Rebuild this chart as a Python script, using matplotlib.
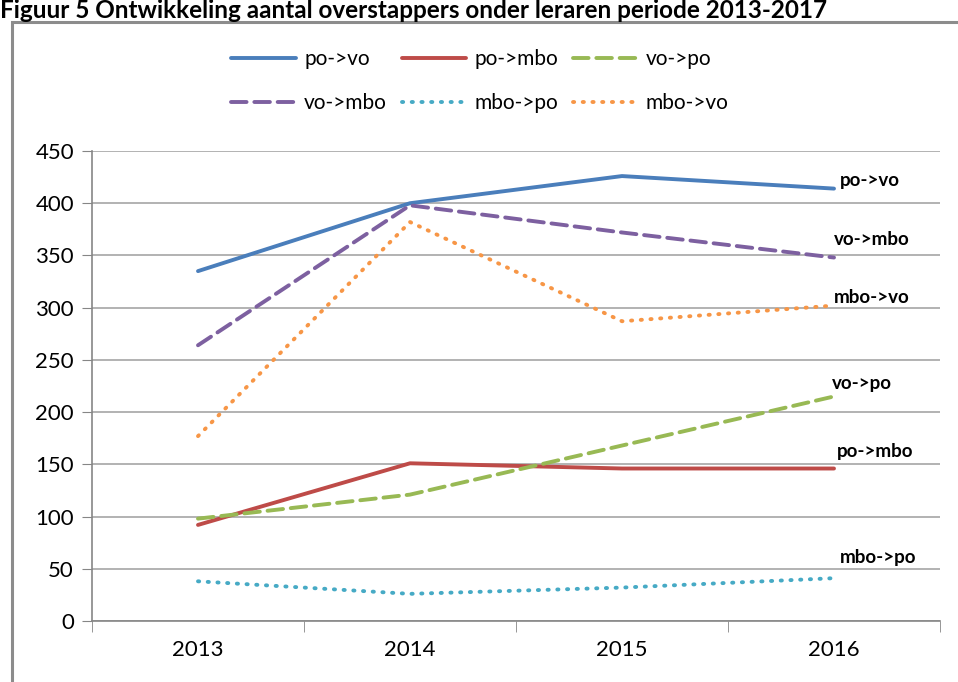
import matplotlib.pyplot as plt
from matplotlib.patches import Rectangle

years = ["2013", "2014", "2015", "2016"]
po_vo = [335, 400, 426, 414]
po_mbo = [92, 151, 146, 146]
vo_po = [98, 121, 168, 215]
vo_mbo = [264, 398, 372, 348]
mbo_po = [38, 26, 32, 41]
mbo_vo = [177, 382, 287, 302]

series = [
    ("po->vo", po_vo, "#4A7EBB", "-", (6, 8)),
    ("po->mbo", po_mbo, "#BE4B48", "-", (3, 17)),
    ("vo->po", vo_po, "#98B954", (0, (4, 2)), (-2, 13)),
    ("vo->mbo", vo_mbo, "#7D60A0", (0, (4, 2)), (0, 18)),
    ("mbo->po", mbo_po, "#46AAC5", (0, (0.3, 2.2)), (6, 21)),
    ("mbo->vo", mbo_vo, "#F79646", (0, (0.3, 2.2)), (0, 8)),
]

plt.rcParams['font.family'] = ['Lato', 'DejaVu Sans']

fig = plt.figure(figsize=(9.58, 6.82), dpi=100)
ax = fig.add_axes([92 / 958, 1 - 621 / 682, (940 - 92) / 958, (621 - 151) / 682])

x = list(range(len(years)))
handles = []
for name, vals, color, ls, off in series:
    h, = ax.plot(x, vals, color=color, linestyle=ls, linewidth=2.8,
                 dash_capstyle='round', solid_capstyle='round', label=name)
    handles.append(h)
    ax.annotate(name, xy=(x[-1], vals[-1]), xytext=(off[0], off[1]),
                textcoords='offset pixels', fontsize=13.5, fontweight='bold',
                ha='left', va='center')

ax.set_xlim(-0.5, 3.5)
ax.set_ylim(0, 450)
ax.set_yticks(range(0, 451, 50))
ax.set_xticks(x)
ax.set_xticklabels(years)
ax.set_xticks([-0.5, 0.5, 1.5, 2.5, 3.5], minor=True)
ax.tick_params(axis='x', which='major', length=0, pad=14, labelsize=16)
ax.tick_params(axis='x', which='minor', length=8, color='#868686', direction='out')
ax.tick_params(axis='y', length=7, color='#868686', direction='out', pad=6, labelsize=16)
ax.yaxis.grid(True, color='#A6A6A6', linewidth=1.2)
ax.set_axisbelow(True)
for s in ['top', 'right']:
    ax.spines[s].set_visible(False)
for s in ['left', 'bottom']:
    ax.spines[s].set_color('#868686')
    ax.spines[s].set_linewidth(1.2)

# row-major order like the original: matplotlib fills legend columns first
order = [0, 3, 1, 4, 2, 5]
fig.legend(handles=[handles[i] for i in order], ncol=3, frameon=False,
           loc='center', bbox_to_anchor=(480 / 958, 1 - 81 / 682),
           fontsize=15, handlelength=3.1, columnspacing=0.7,
           handletextpad=0.4, labelspacing=1.15)

fig.patches.append(Rectangle((12 / 958, -0.1), 1.2, 1.1 - 22 / 682,
                             transform=fig.transFigure, fill=False,
                             edgecolor='#8C8C8C', linewidth=2.2))

fig.text(0, 1 - 18 / 682,
         "Figuur 5 Ontwikkeling aantal overstappers onder leraren periode 2013-2017",
         fontsize=17.5, fontweight='bold', ha='left', va='baseline')

fig.savefig("out.png", dpi=100)
